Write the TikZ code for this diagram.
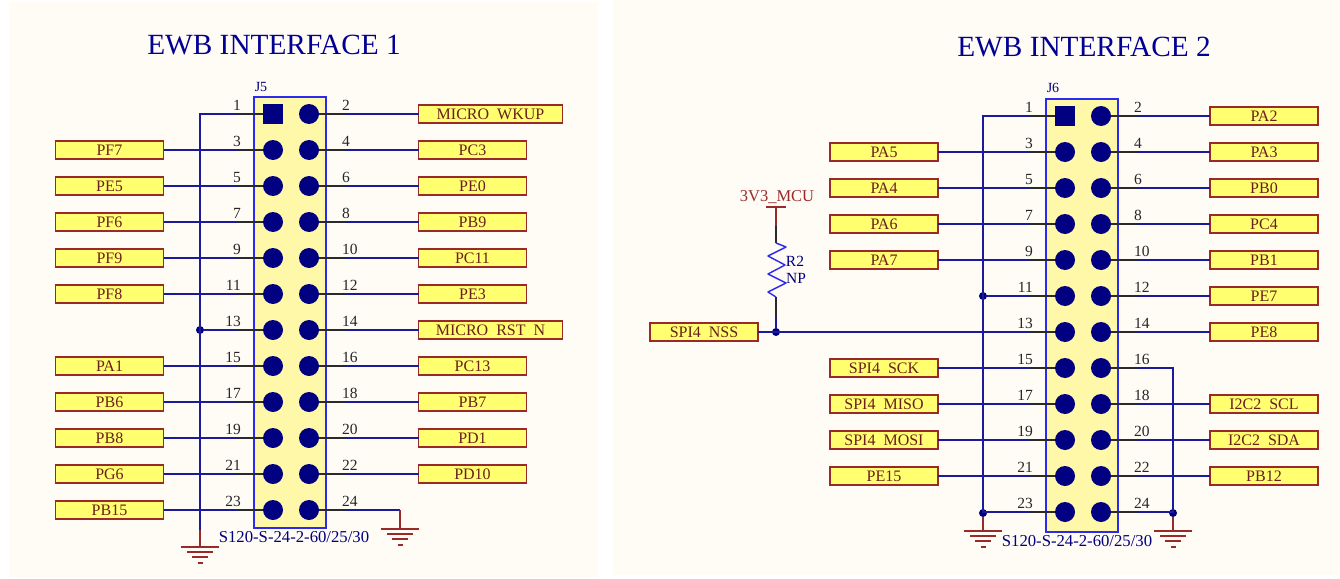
\documentclass[tikz,border=0pt]{standalone}
\usepackage{fontspec}
\setmainfont{Liberation Serif}
\definecolor{panelbg}{HTML}{FFFBF5}
\definecolor{wirec}{HTML}{1A1A9A}
\definecolor{navyc}{HTML}{000080}
\definecolor{boxb}{HTML}{2A2AF0}
\definecolor{boxf}{HTML}{FFF8A8}
\definecolor{labf}{HTML}{FFFF70}
\definecolor{redc}{HTML}{9A2A2A}
\definecolor{stubc}{HTML}{2A2A2A}
\newcommand{\ugap}{\hspace{.5em}}
\tikzset{
  x=1pt,y=-1pt,
  wire/.style={draw=wirec,line width=1.4pt},
  stub/.style={draw=stubc,line width=1.4pt},
  pwr/.style={draw=redc,line width=1.5pt},
  netlab/.style={draw=redc,line width=1.6pt,fill=labf,minimum height=18pt,inner sep=0pt,outer sep=0pt,text=redc!70!black,font=\fontsize{16}{17}\selectfont,minimum width=108pt},
  widelab/.style={netlab,minimum width=144pt},
  hdrbox/.style={draw=boxb,line width=1.5pt,fill=boxf,minimum width=72pt,inner sep=0pt,outer sep=0pt},
  pinr/.style={circle,fill=navyc,minimum size=20pt,inner sep=0pt,outer sep=0pt},
  pins/.style={rectangle,fill=navyc,minimum size=20pt,inner sep=0pt,outer sep=0pt},
  pinnum/.style={font=\fontsize{15.5}{16}\selectfont,text=black!85,inner sep=0pt},
  junc/.style={circle,fill=navyc,minimum size=8pt,inner sep=0pt,outer sep=0pt},
  title/.style={font=\fontsize{29.3}{30}\selectfont,text=navyc!85!blue,inner sep=0pt},
  comp/.style={font=\fontsize{16.7}{17}\selectfont,text=navyc,inner sep=0pt},
  reflab/.style={font=\fontsize{14}{15}\selectfont,text=navyc,inner sep=0pt},
  pwrtxt/.style={font=\fontsize{16.5}{17}\selectfont,text=redc,inner sep=0pt},
}
\newcommand{\gndsym}[1]{%
  \draw[pwr] ([xshift=-19pt]#1) -- ([xshift=19pt]#1);
  \draw[pwr] ([xshift=-13pt,yshift=-5pt]#1) -- ([xshift=13pt,yshift=-5pt]#1);
  \draw[pwr] ([xshift=-8pt,yshift=-10pt]#1) -- ([xshift=8pt,yshift=-10pt]#1);
  \draw[pwr] ([xshift=-2.5pt,yshift=-16pt]#1) -- ([xshift=2.5pt,yshift=-16pt]#1);
}
\begin{document}
\begin{tikzpicture}
\useasboundingbox (0,0) rectangle (1340,578);
\fill[white] (0,0) rectangle (1340,578);
\fill[panelbg] (9,2) rectangle (598,577);
\fill[panelbg] (613,0) rectangle (1340,575);

\node[title] (T1) at (274,45) {EWB INTERFACE 1};
\node[title] (T2) at (1084,47) {EWB INTERFACE 2};

% ---------- J5 ----------
\node[hdrbox,minimum height=431pt] (J5box) at (290,312.5) {};
\node[reflab] (J5ref) at (261,87) {J5};
\node[comp] (J5part) at (294,537) {S120-S-24-2-60/25/30};
\foreach \n [evaluate=\n as \yy using {114+36*int((\n-1)/2)}] in {1,3,...,23} {
  \ifnum\n=1 \node[pins] (A\n) at (273,\yy) {}; \else \node[pinr] (A\n) at (273,\yy) {}; \fi
  \coordinate (As\n) at (238,\yy);
  \draw[stub] (A\n.west) -- (As\n);
  \node[pinnum,anchor=east] (An\n) at (241,\yy-9) {\n};
}
\foreach \n [evaluate=\n as \yy using {114+36*int((\n-2)/2)}] in {2,4,...,24} {
  \node[pinr] (A\n) at (309,\yy) {};
  \coordinate (As\n) at (345,\yy);
  \draw[stub] (A\n.east) -- (As\n);
  \node[pinnum,anchor=west] (An\n) at (342,\yy-9) {\n};
}
% left labels
\foreach \n/\t in {3/PF7,5/PE5,7/PF6,9/PF9,11/PF8,15/PA1,17/PB6,19/PB8,21/PG6,23/PB15} {
  \path (As\n) ++(-128.5,0) node[netlab] (AL\n) {\t};
  \draw[wire] (AL\n.east) -- (As\n);
}
% right labels
\foreach \n/\t in {4/PC3,6/PE0,8/PB9,10/PC11,12/PE3,16/PC13,18/PB7,20/PD1,22/PD10} {
  \path (As\n) ++(127.5,0) node[netlab] (AR\n) {\t};
  \draw[wire] (As\n) -- (AR\n.west);
}
\path (As2) ++(145.5,0) node[widelab] (AR2) {MICRO\ugap WKUP};
\path (As14) ++(145.5,0) node[widelab] (AR14) {MICRO\ugap RST\ugap N};
\draw[wire] (As2) -- (AR2.west);
\draw[wire] (As14) -- (AR14.west);
% J5 power
\node[junc] (AJ13) at (200,330) {};
\coordinate (AT) at (200,114);
\coordinate (AG1w) at (200,530);
\coordinate (AG1) at (200,547);
\draw[wire] (As1) -- (AT) -- (AG1w);
\draw[wire] (AJ13) -- (As13);
\draw[pwr] (AG1w) -- (AG1);
\gndsym{AG1}
\coordinate (AC24) at (400,510);
\coordinate (AG2) at (400,529);
\draw[wire] (As24) -- (AC24);
\draw[pwr] (AC24) -- (AG2);
\gndsym{AG2}

% ---------- J6 ----------
\node[hdrbox,minimum height=433pt] (J6box) at (1082,315.5) {};
\node[reflab] (J6ref) at (1053,88) {J6};
\node[comp] (J6part) at (1077,541) {S120-S-24-2-60/25/30};
\foreach \n [evaluate=\n as \yy using {116+36*int((\n-1)/2)}] in {1,3,...,23} {
  \ifnum\n=1 \node[pins] (B\n) at (1065,\yy) {}; \else \node[pinr] (B\n) at (1065,\yy) {}; \fi
  \coordinate (Bs\n) at (1030,\yy);
  \draw[stub] (B\n.west) -- (Bs\n);
  \node[pinnum,anchor=east] (Bn\n) at (1033,\yy-9) {\n};
}
\foreach \n [evaluate=\n as \yy using {116+36*int((\n-2)/2)}] in {2,4,...,24} {
  \node[pinr] (B\n) at (1101,\yy) {};
  \coordinate (Bs\n) at (1137,\yy);
  \draw[stub] (B\n.east) -- (Bs\n);
  \node[pinnum,anchor=west] (Bn\n) at (1134,\yy-9) {\n};
}
\foreach \n/\t in {3/PA5,5/PA4,7/PA6,9/PA7,15/SPI4\ugap SCK,17/SPI4\ugap MISO,19/SPI4\ugap MOSI,21/PE15} {
  \path (Bs\n) ++(-146,0) node[netlab] (BL\n) {\t};
  \draw[wire] (BL\n.east) -- (Bs\n);
}
\foreach \n/\t in {2/PA2,4/PA3,6/PB0,8/PC4,10/PB1,12/PE7,14/PE8,18/I2C2\ugap SCL,20/I2C2\ugap SDA,22/PB12} {
  \path (Bs\n) ++(127,0) node[netlab] (BR\n) {\t};
  \draw[wire] (Bs\n) -- (BR\n.west);
}
% J6 power
\node[junc] (BJ11) at (983,296) {};
\node[junc] (BJ23) at (983,513) {};
\node[junc] (BJ24) at (1173,513) {};
\coordinate (BT) at (983,116);
\coordinate (BC16) at (1173,368);
\coordinate (BG1) at (983,531);
\coordinate (BG2) at (1173,531);
\draw[wire] (Bs1) -- (BT) -- (BJ23);
\draw[wire] (BJ11) -- (Bs11);
\draw[wire] (BJ23) -- (Bs23 -| BJ23) -- (Bs23);
\draw[wire] (Bs16) -- (BC16) -- (BJ24);
\draw[wire] (Bs24) -- (Bs24 -| BJ24) -- (BJ24);
\draw[pwr] (BJ23) -- (BG1);
\draw[pwr] (BJ24) -- (BG2);
\gndsym{BG1}
\gndsym{BG2}

% SPI4_NSS and R2
\node[netlab] (NSS) at (704,332) {SPI4\ugap NSS};
\node[junc] (RJ) at (776,332) {};
\draw[wire] (NSS.east) -- (Bs13);
\node[pwrtxt] (V33) at (777,197) {3V3\_MCU};
\coordinate (Vbar) at (776,207);
\coordinate (Rp1) at (776,226);
\coordinate (Ra) at (776,243);
\coordinate (Rb) at (776,297);
\coordinate (Rs) at (776,318);
\draw[pwr] ([xshift=-10pt]Vbar) -- ([xshift=10pt]Vbar);
\draw[pwr] (Vbar) -- (Rp1);
\draw[stub] (Rp1) -- (Ra);
\draw[draw=boxb,line width=1.4pt,line join=round] (Ra) -- (786,247) -- (768,256) -- (785,265) -- (768,274) -- (786,283) -- (768,292) -- (Rb);
\draw[stub] (Rb) -- (Rs);
\draw[wire] (Rs) -- (RJ);
\node[font=\fontsize{15.5}{16}\selectfont,text=navyc,inner sep=0pt] (R2a) at (795,261) {R2};
\node[font=\fontsize{15.5}{16}\selectfont,text=navyc,inner sep=0pt] (R2b) at (796,278) {NP};
\end{tikzpicture}
\end{document}
